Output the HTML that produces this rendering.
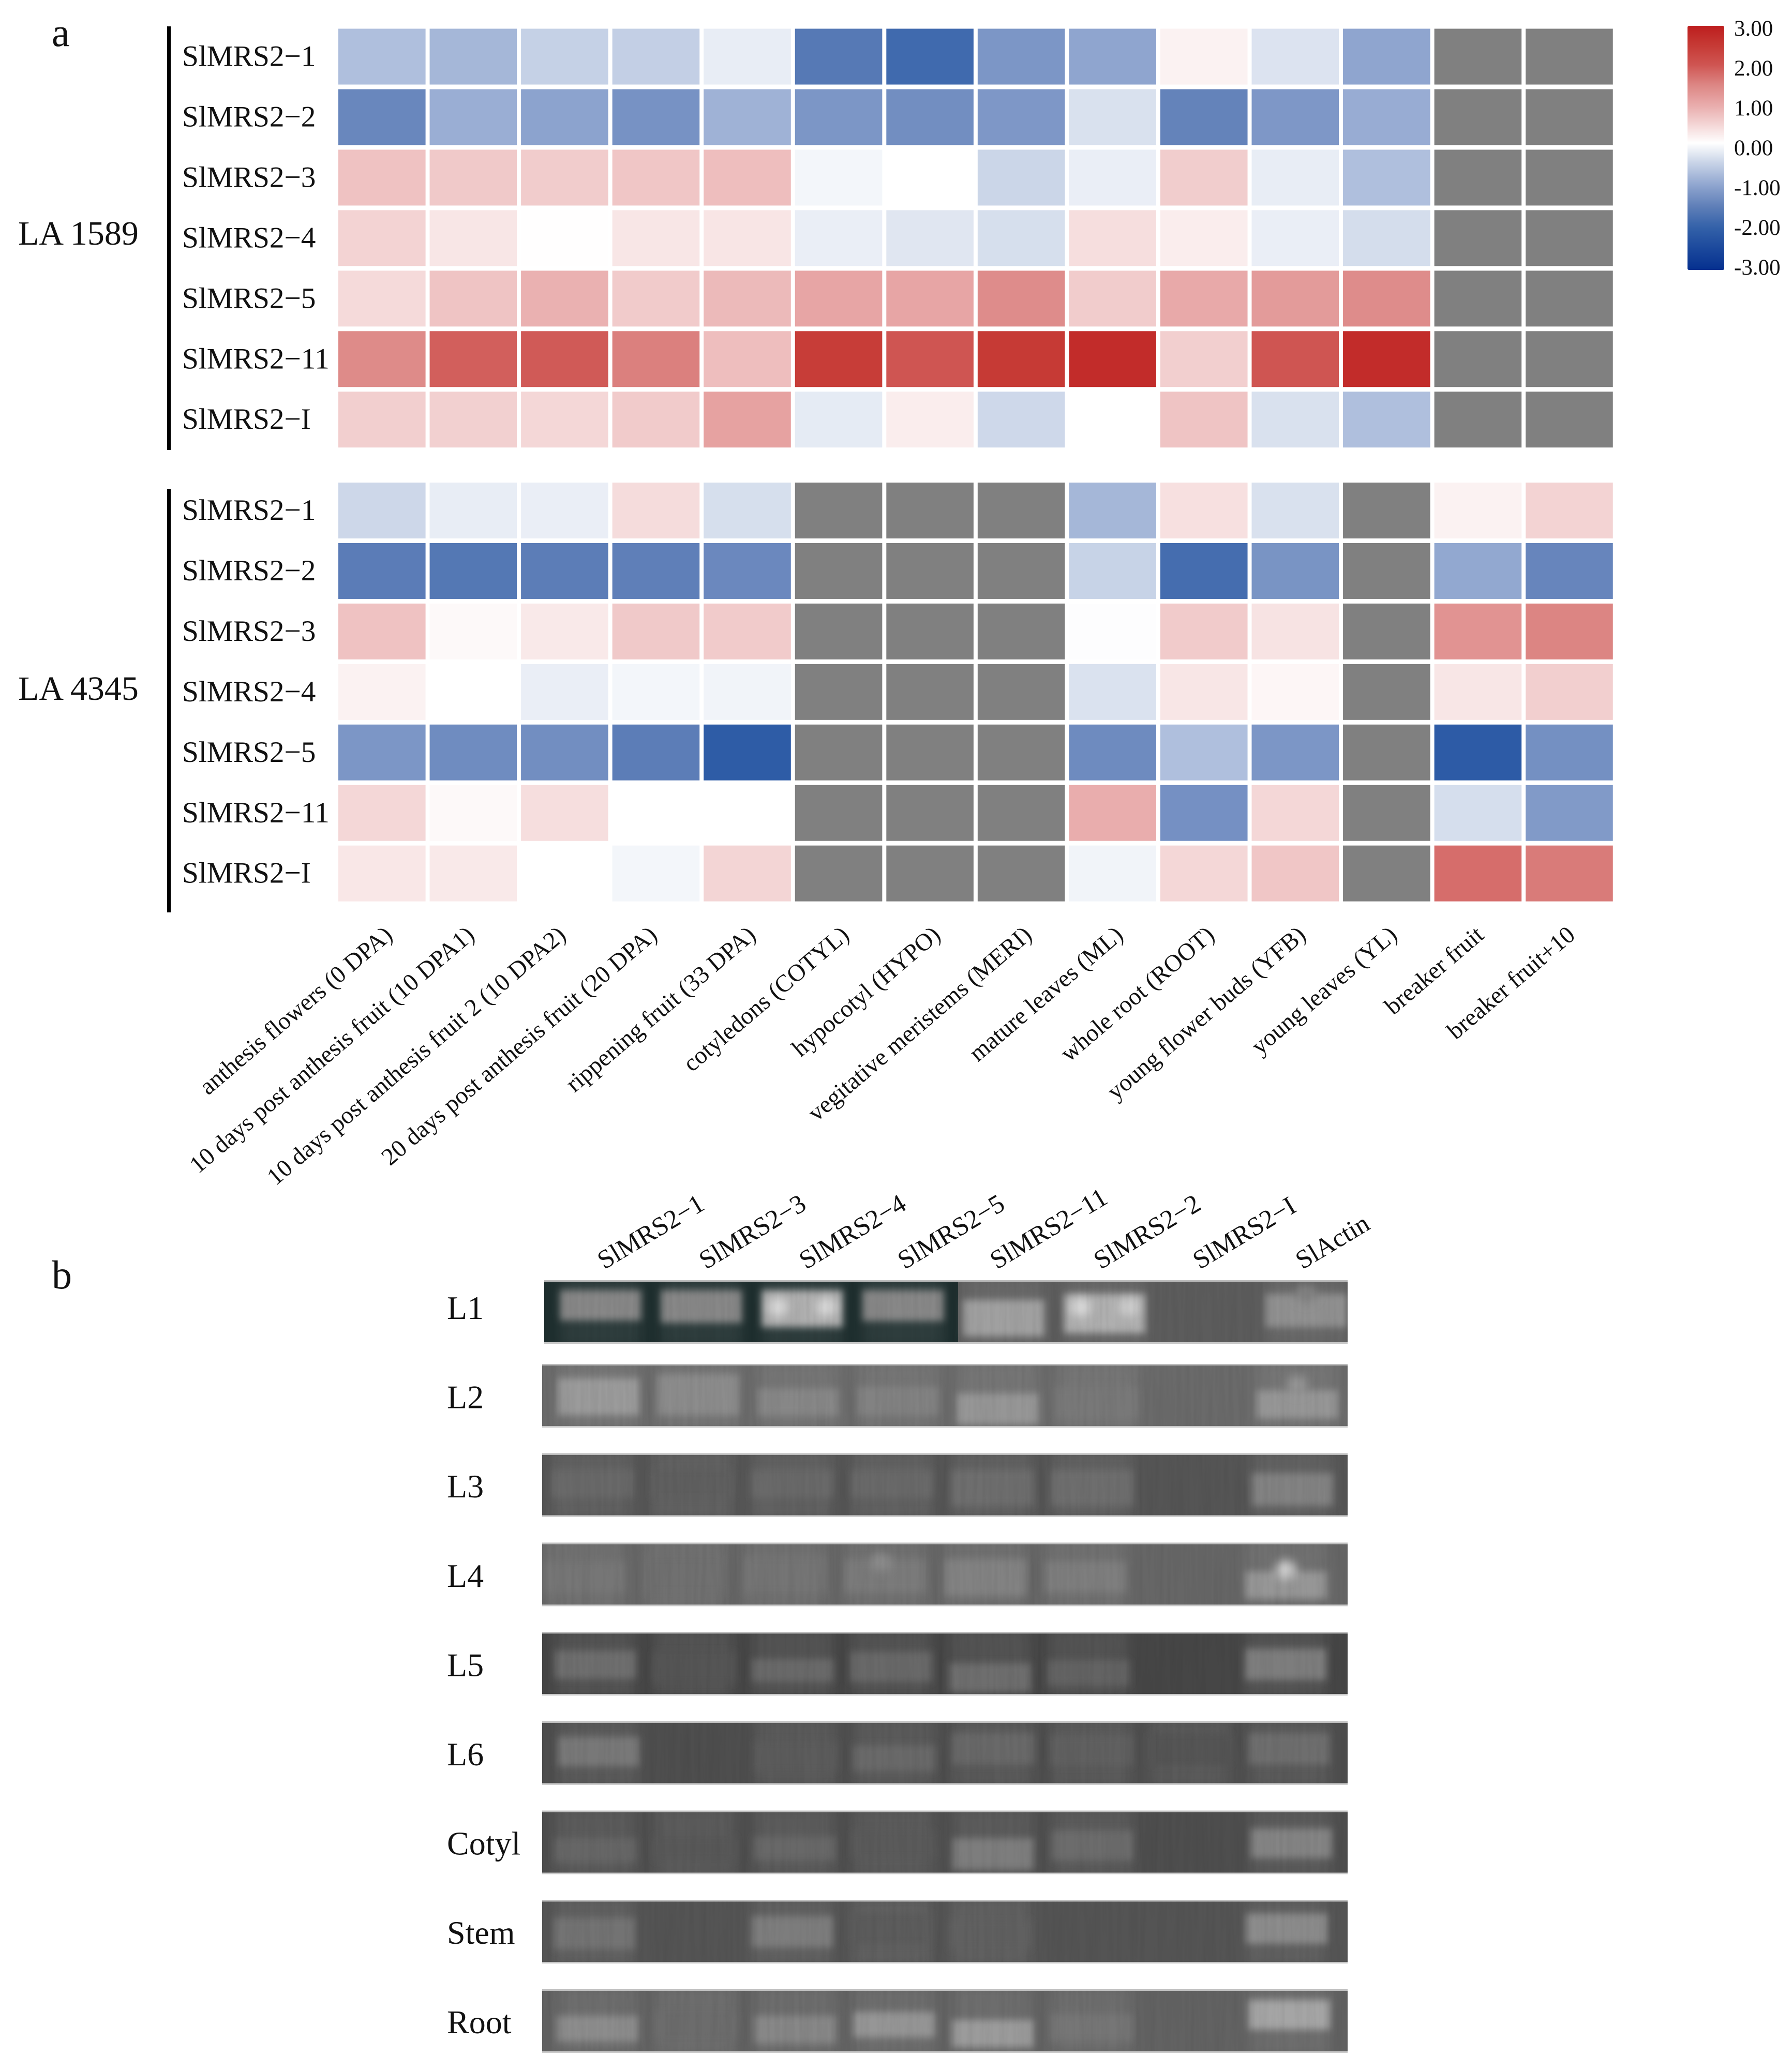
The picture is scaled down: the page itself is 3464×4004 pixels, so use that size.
<!DOCTYPE html>
<html lang="en">
<head>
<meta charset="utf-8">
<title>SlMRS2 expression heatmap and RT-PCR gels</title>
<style>
html,body{margin:0;padding:0;background:#fff;}
svg{display:block;}
text{font-family:"Liberation Serif",serif;fill:#111;}
</style>
</head>
<body>
<svg id="figure" xmlns="http://www.w3.org/2000/svg" width="3464" height="4004" viewBox="0 0 3464 4004">
  <defs>
    <linearGradient id="cbar-gradient" x1="0" y1="0" x2="0" y2="1"></linearGradient>
    <filter id="band-blur" x="-30%" y="-30%" width="160%" height="160%"><feGaussianBlur stdDeviation="7"></feGaussianBlur></filter>
    <filter id="halo-blur" x="-30%" y="-30%" width="160%" height="160%"><feGaussianBlur stdDeviation="12"></feGaussianBlur></filter>
    <filter id="spot-blur" x="-100%" y="-100%" width="300%" height="300%"><feGaussianBlur stdDeviation="9"></feGaussianBlur></filter>
    <filter id="grain" x="0" y="0" width="100%" height="100%">
      <feTurbulence type="fractalNoise" baseFrequency="0.12 0.006" numOctaves="2" seed="7"></feTurbulence>
      <feColorMatrix type="matrix" values="0 0 0 0 0  0 0 0 0 0  0 0 0 0 0  1.6 0 0 0 -0.55"></feColorMatrix>
    </filter>
  </defs>
  <rect width="3464" height="4004" fill="#ffffff"></rect>

  <text x="100" y="89" font-size="78">a</text>
  <text x="100" y="2491" font-size="78">b</text>

  <text x="35" y="473" font-size="66">LA 1589</text>
  <text x="35" y="1353" font-size="66">LA 4345</text>
  <rect x="323" y="51" width="7" height="819" fill="#000"></rect>
  <rect x="323" y="945" width="7" height="819" fill="#000"></rect>

  <g id="heatmap-top"></g>
  <g id="heatmap-bottom"></g>
  <g id="x-labels"></g>
  <g id="colorbar"></g>
  <g id="gels"></g>
  <g id="lane-labels"></g>
</svg>

<script>
// ---------- heatmap data ----------
const geneLabels = ["SlMRS2−1","SlMRS2−2","SlMRS2−3","SlMRS2−4","SlMRS2−5","SlMRS2−11","SlMRS2−I"];
const tissueLabels = [
  "anthesis flowers (0 DPA)","10 days post anthesis fruit (10 DPA1)","10 days post anthesis fruit 2 (10 DPA2)",
  "20 days post anthesis fruit (20 DPA)","rippening fruit (33 DPA)","cotyledons (COTYL)","hypocotyl (HYPO)",
  "vegitative meristems (MERI)","mature leaves (ML)","whole root (ROOT)","young flower buds (YFB)",
  "young leaves (YL)","breaker fruit","breaker fruit+10"
];
const valuesLA1589 = [
  [-0.7,-0.8,-0.5,-0.52,-0.2,-1.6,-1.85,-1.2,-1.0,0.15,-0.3,-1.0,null,null],
  [-1.4,-0.9,-1.03,-1.25,-0.85,-1.2,-1.3,-1.18,-0.33,-1.45,-1.18,-0.92,null,null],
  [0.7,0.62,0.58,0.65,0.75,-0.1,0,-0.45,-0.18,0.57,-0.2,-0.7,null,null],
  [0.5,0.28,0.01,0.28,0.3,-0.18,-0.27,-0.35,0.38,0.2,-0.18,-0.37,null,null],
  [0.42,0.68,0.9,0.6,0.8,1.05,1.05,1.4,0.58,1.0,1.2,1.4,null,null],
  [1.42,1.9,1.95,1.55,0.75,2.45,2.0,2.5,2.75,0.55,2.0,2.75,null,null],
  [0.55,0.53,0.45,0.6,1.1,-0.22,0.2,-0.42,0,0.68,-0.33,-0.7,null,null]
];
const valuesLA4345 = [
  [-0.43,-0.2,-0.18,0.4,-0.35,null,null,null,-0.8,0.35,-0.33,null,0.15,0.5],
  [-1.55,-1.62,-1.53,-1.5,-1.38,null,null,null,-0.48,-1.8,-1.23,null,-0.97,-1.42],
  [0.7,0.07,0.25,0.62,0.6,null,null,null,-0.02,0.6,0.32,null,1.3,1.5],
  [0.15,0,-0.18,-0.1,-0.12,null,null,null,-0.32,0.28,0.1,null,0.28,0.55],
  [-1.2,-1.33,-1.3,-1.53,-2.1,null,null,null,-1.34,-0.7,-1.2,null,-2.12,-1.28],
  [0.45,0.07,0.37,0,0,null,null,null,0.95,-1.27,0.45,null,-0.36,-1.15],
  [0.27,0.25,0,-0.1,0.48,null,null,null,-0.12,0.45,0.65,null,1.75,1.6]
];
const scaleValues = [-3,-2.5,-2,-1.5,-1,-0.5,-0.25,0,0.25,0.5,1,1.5,2,2.5,3];
const scaleColors = ["#05308f","#1b489c","#3361a9","#5f7fb8","#8fa5cf","#c5d1e6","#e2e8f2","#ffffff","#f9e9e9","#f3d3d3","#e8a9a9","#dc8583","#cf5552","#c63a35","#bd1e1e"];
const legendTicks = [3,2,1,0,-1,-2,-3];
const legendTickLabels = ["3.00","2.00","1.00","0.00","-1.00","-2.00","-3.00"];

// ---------- gel data ----------
const gelTissues = ["L1","L2","L3","L4","L5","L6","Cotyl","Stem","Root"];
const gelLanes = ["SlMRS2−1","SlMRS2−3","SlMRS2−4","SlMRS2−5","SlMRS2−11","SlMRS2−2","SlMRS2−I","SlActin"];
const gelBackground = [92,106,85,102,70,78,78,84,98];
const gelBandGray = [
  [135,135,175,135,160,175,0,145],
  [155,140,135,130,150,120,0,150],
  [105,95,105,105,110,110,0,130],
  [118,112,116,122,130,126,0,150],
  [110,84,105,105,110,100,0,125],
  [120,0,92,105,105,97,84,110],
  [102,88,104,90,125,108,0,132],
  [115,0,125,92,96,0,0,140],
  [140,108,135,150,155,118,0,165]
];
const gelBandStart = [
  [.14,.14,.14,.14,.3,.2,0,.2],
  [.21,.15,.38,.35,.46,.35,0,.41],
  [.25,.25,.25,.25,.25,.25,0,.3],
  [.28,.2,.2,.25,.25,.28,0,.45],
  [.28,.3,.42,.3,.49,.44,0,.25],
  [.23,0,.3,.37,.17,.2,.17,.17],
  [.43,.4,.4,.3,.43,.3,0,.27],
  [.27,0,.24,.2,.3,0,0,.2],
  [.41,.35,.41,.35,.48,.38,0,.15]
];
const gelBandEnd = [
  [.64,.68,.75,.65,.9,.85,0,.75],
  [.82,.82,.83,.82,.97,.87,0,.87],
  [.71,.71,.71,.71,.84,.84,0,.84],
  [.8,.8,.8,.8,.85,.8,0,.9],
  [.75,.82,.8,.8,.96,.86,0,.77],
  [.72,0,.8,.8,.69,.71,.69,.69],
  [.83,.8,.8,.76,.95,.8,0,.76],
  [.79,0,.76,.7,.79,0,0,.7],
  [.84,.8,.87,.77,.93,.84,0,.64]
];
// lane-drift of each gel relative to the nominal comb
const gelLaneDrift = [4,0,-12,-27,-6,0,-6,-8,-2];
const gelLaneSpread = [1.017,1.007,1.009,1.011,0.995,0.995,1.003,0.998,0.997];
// bright spots: tissue index, lane index, depth along the strip, grey level
const spotTissue = [0,0,0,0,3,3,1,0];
const spotLane = [2,2,5,5,7,3,7,7];
const spotDepth = [.42,.42,.42,.42,.42,.3,.32,.2];
const spotSide = [-0.3,0.3,-0.3,0.3,0,-0.05,0,0];
const spotGray = [215,215,215,205,205,140,150,130];

// ---------- scales ----------
const svgNS = "http://www.w3.org/2000/svg";
function mk(tag, attrs, parent){
  const el = document.createElementNS(svgNS, tag);
  for (const k in attrs) el.setAttribute(k, attrs[k]);
  parent.appendChild(el);
  return el;
}
function hexToRgb(h){ return [1,3,5].map(i => parseInt(h.substr(i,2),16)); }
function colorFor(v){
  if (v === null) return "#808080";
  const c = Math.max(-3, Math.min(3, v));
  for (let i = 0; i < scaleValues.length - 1; i++){
    if (c <= scaleValues[i+1]){
      const t = (c - scaleValues[i]) / (scaleValues[i+1] - scaleValues[i]);
      const a = hexToRgb(scaleColors[i]), b = hexToRgb(scaleColors[i+1]);
      return "rgb(" + a.map((q,j) => Math.round(q + (b[j]-q)*t)).join(",") + ")";
    }
  }
  return scaleColors[scaleColors.length-1];
}
const cellW = 168.6, cellH = 108;
function xCol(i){ return 654 + i * 176.55; }
function yRow(j, top){ return top + j * 116.95; }

// ---------- heatmaps ----------
function drawHeatmap(group, values, top, prefix){
  values.forEach((row, j) => {
    const label = mk("text", {x:352, y:yRow(j,top)+cellH/2+18, "font-size":57.3}, group);
    
    
    label.textContent = geneLabels[j];
    row.forEach((v, i) => {
      const cell = mk("rect", {x:xCol(i), y:yRow(j,top), width:cellW, height:cellH, fill:colorFor(v)}, group);
      
      
    });
  });
}
drawHeatmap(document.getElementById("heatmap-top"), valuesLA1589, 55.5, "la1589");
drawHeatmap(document.getElementById("heatmap-bottom"), valuesLA4345, 933, "la4345");

const xLabelGroup = document.getElementById("x-labels");
function tissueLabelNudge(i){
  if (i >= 1 && i <= 3) return -22;
  if (i === 4) return -8;
  if (i >= 12) return -13;
  return -4;
}
tissueLabels.forEach((name, i) => {
  const ax = xCol(i) + cellW/2 + 27 + tissueLabelNudge(i), ay = 1812;
  const t = mk("text", {x:ax, y:ay, "font-size":47, "text-anchor":"end", transform:"rotate(-40.5 "+ax+" "+ay+")"}, xLabelGroup);
  
  
  t.textContent = name;
});

// ---------- colour legend ----------
const grad = document.getElementById("cbar-gradient");
function legendOffset(v){ return v >= 0 ? (3 - v) / 3 * 0.48 : 0.48 + (-v) / 3 * 0.52; }
scaleValues.slice().reverse().forEach(v => {
  mk("stop", {offset:legendOffset(v), "stop-color":colorFor(v)}, grad);
});
const cbar = document.getElementById("colorbar");
const cbarRect = mk("rect", {x:3262, y:50, width:71, height:472, rx:3, fill:"url(#cbar-gradient)"}, cbar);


function legendY(v){ return 300 - v * 77; }
legendTicks.forEach((v, i) => {
  const t = mk("text", {x:3352, y:legendY(v), "font-size":43}, cbar);
  
  
  t.textContent = legendTickLabels[i];
});

// ---------- gels ----------
const gels = document.getElementById("gels");
const defs = document.querySelector("defs");
const gelRight = 2605, gelHeight = 117, lanePitch = 191.6, bandWidth = 156;
function gelLeft(r){ return r === 0 ? 1052 : 1048; }
function gelTop(r){ return r === 0 ? 2478 : 2640 + (r - 1) * 172.7; }
function gelLabelBaseline(r){ return 2550 + r * 172.6; }
function laneX(r, l){ return 1157 + gelLaneDrift[r] + l * lanePitch * gelLaneSpread[r]; }
gelTissues.forEach((tissue, r) => {
  const top = gelTop(r), left = gelLeft(r), width = gelRight - left;
  const label = mk("text", {x:864, y:gelLabelBaseline(r), "font-size":64}, gels);
  
  
  label.textContent = tissue;

  const clip = mk("clipPath", {id:"gel-clip-"+r}, defs);
  mk("rect", {x:left, y:top, width:width, height:gelHeight}, clip);

  const edgeTop = mk("rect", {x:left, y:top-3, width:width, height:3, fill:"#bdbdbd"}, gels);
  
  
  const edgeBottom = mk("rect", {x:left, y:top+gelHeight, width:width, height:3, fill:"#c8c8c8"}, gels);
  
  

  const strip = mk("g", {"clip-path":"url(#gel-clip-"+r+")"}, gels);
  
  

  const g = gelBackground[r];
  const bg = mk("rect", {x:left, y:top, width:width, height:gelHeight, fill:"rgb("+g+","+g+","+g+")"}, strip);
  
  

  if (r === 0){
    const dark = mk("rect", {x:left, y:top, width:800, height:gelHeight, fill:"#1e2e2e"}, strip);
    
    
  }

  gelBandGray[r].forEach((gray, l) => {
    if (!gray) return;
    const halo = mk("rect", {x:laneX(r,l) - bandWidth/2, y:top - 10, width:bandWidth, height:gelHeight + 20,
      fill:"#ffffff", opacity:0.07, filter:"url(#halo-blur)"}, strip);
    
    
    const y0 = top + gelBandStart[r][l] * gelHeight;
    const y1 = top + gelBandEnd[r][l] * gelHeight;
    const band = mk("rect", {x:laneX(r,l) - bandWidth/2, y:y0, width:bandWidth, height:y1 - y0,
      fill:"rgb("+gray+","+gray+","+gray+")", filter:"url(#band-blur)"}, strip);
    
    
  });

  spotTissue.forEach((t, s) => {
    if (t !== r) return;
    const sg = spotGray[s];
    const spot = mk("ellipse", {cx:laneX(r, spotLane[s]) + spotSide[s] * bandWidth, cy:top + spotDepth[s] * gelHeight, rx:20, ry:18,
      fill:"rgb("+sg+","+sg+","+sg+")", filter:"url(#spot-blur)"}, strip);
    
    
  });

  const grain = mk("rect", {x:left, y:top, width:width, height:gelHeight, fill:"#000", filter:"url(#grain)", opacity:0.05}, strip);
  
  
});

const laneLabelGroup = document.getElementById("lane-labels");
function laneLabelNudge(l){
  if (l === 0 || l === 3) return 5;
  if (l === 1 || l === 2) return 8;
  if (l === 4) return -10;
  if (l === 5) return -3;
  if (l === 6) return -5;
  return 0;
}
gelLanes.forEach((name, l) => {
  const ax = 1163 + l * 193.5 + laneLabelNudge(l), ay = 2455;
  const t = mk("text", {x:ax, y:ay, "font-size":51, transform:"rotate(-31 "+ax+" "+ay+")"}, laneLabelGroup);
  
  
  t.textContent = name;
});
</script>
</body>
</html>
